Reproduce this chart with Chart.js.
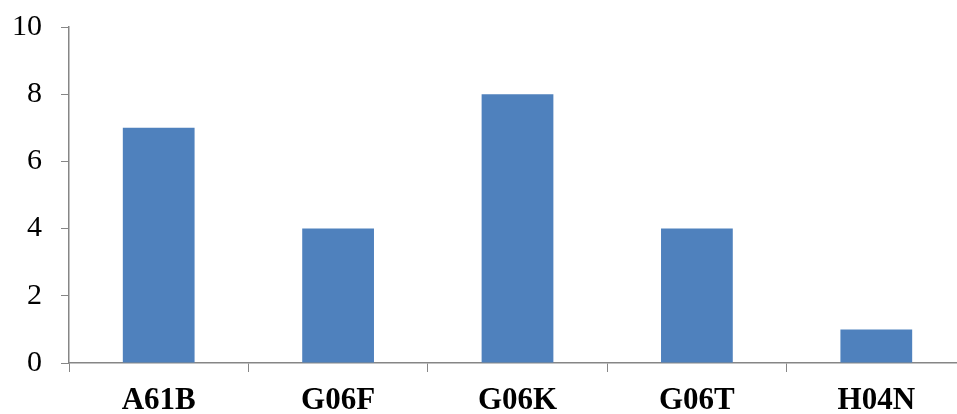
<!DOCTYPE html>
<html>
<head>
<meta charset="utf-8">
<script src="https://cdn.jsdelivr.net/npm/chart.js@4"></script>
<style>
  html, body { margin: 0; padding: 0; background: #fff; overflow: hidden; }
  #wrap { width: 966px; height: 414px; }
</style>
</head>
<body>
<div id="wrap"><canvas id="grafico" width="966" height="414"></canvas></div>
<script>
// codigos de clasificacion y cantidad de documentos
const categorias = ['A61B', 'G06F', 'G06K', 'G06T', 'H04N'];
const cantidades = [7, 4, 8, 4, 1];
const ticksY = [0, 2, 4, 6, 8, 10];

const colorEje = '#868686';
const fuente = "'Liberation Serif', 'Times New Roman', serif";

const ctx = document.getElementById('grafico');

new Chart(ctx.getContext('2d'), {
    type: 'bar',
    data: {
        labels: categorias,
        datasets: [{
            data: cantidades,
            backgroundColor: '#4F81BD',
            barPercentage: 0.4,
            categoryPercentage: 1
        }]
    },
    options: {
        responsive: false,
        animation: false,
        layout: { padding: { top: 27, left: 0, right: 0, bottom: 0 } },
        plugins: {
            legend: { display: false },
            tooltip: { enabled: false }
        },
        scales: {
            x: {
                grid: {
                    offset: true,
                    drawOnChartArea: false,
                    color: colorEje,
                    tickLength: 9
                },
                border: { color: colorEje, width: 1.5 },
                ticks: {
                    color: '#000',
                    padding: 10,
                    font: { family: fuente, size: 31, weight: 'bold' }
                },
                afterFit: scale => {
                    scale.height = 51;
                    scale.paddingLeft = 0;
                    scale.paddingRight = 0;
                }
            },
            y: {
                min: 0,
                max: 10,
                afterBuildTicks: scale => {
                    scale.ticks = ticksY.map(v => ({ value: v }));
                },
                grid: {
                    drawOnChartArea: false,
                    color: colorEje,
                    tickLength: 8
                },
                border: { color: colorEje, width: 1.5 },
                ticks: {
                    color: '#000',
                    padding: 19,
                    font: { family: fuente, size: 30 }
                },
                afterFit: scale => {
                    scale.width = 69;
                    scale.paddingTop = 0;
                    scale.paddingBottom = 0;
                }
            }
        }
    }
});
</script>
</body>
</html>
